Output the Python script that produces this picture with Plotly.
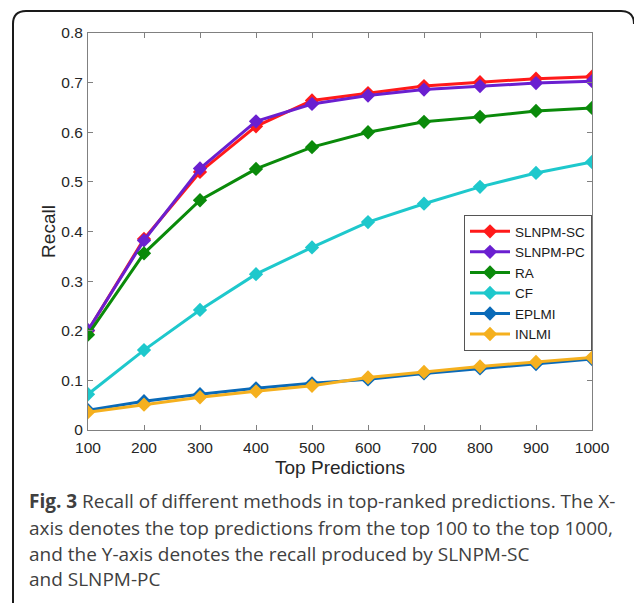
import plotly.graph_objects as go

# Top-N cut-offs on the x-axis
top_n = [100, 200, 300, 400, 500, 600, 700, 800, 900, 1000]

# Recall of each method at each cut-off
recall_slnpm_sc = [0.200, 0.385, 0.520, 0.612, 0.664, 0.679, 0.693, 0.701, 0.708, 0.712]
recall_slnpm_pc = [0.201, 0.382, 0.527, 0.622, 0.657, 0.674, 0.686, 0.693, 0.699, 0.703]
recall_ra = [0.192, 0.356, 0.463, 0.526, 0.570, 0.600, 0.621, 0.631, 0.643, 0.649]
recall_cf = [0.072, 0.161, 0.242, 0.314, 0.368, 0.419, 0.456, 0.490, 0.518, 0.540]
recall_eplmi = [0.040, 0.058, 0.072, 0.084, 0.094, 0.102, 0.114, 0.124, 0.133, 0.143]
recall_inlmi = [0.036, 0.051, 0.066, 0.078, 0.089, 0.106, 0.117, 0.128, 0.137, 0.146]

method_names = ["SLNPM-SC", "SLNPM-PC", "RA", "CF", "EPLMI", "INLMI"]
method_colors = ["#ff1a1a", "#6a1fd0", "#0a8a0a", "#1ec8cc", "#0a6ab8", "#f5b01e"]
method_values = [recall_slnpm_sc, recall_slnpm_pc, recall_ra, recall_cf,
                 recall_eplmi, recall_inlmi]

y_ticks = [0, 0.1, 0.2, 0.3, 0.4, 0.5, 0.6, 0.7, 0.8]
y_tick_text = ["0", "0.1", "0.2", "0.3", "0.4", "0.5", "0.6", "0.7", "0.8"]

caption_lines = [
    "<b>Fig. 3</b> Recall of different methods in top-ranked predictions. The X-",
    "axis denotes the top predictions from the top 100 to the top 1000,",
    "and the Y-axis denotes the recall produced by SLNPM-SC",
    "and SLNPM-PC",
]

W, H = 634, 603
L, R, T, B = 88, 42, 33, 173


def px(x):
    return (x - L) / (W - L - R)


def py(y):
    return 1 - (y - T) / (H - T - B)


fig = go.Figure()
for name, color, vals in zip(method_names, method_colors, method_values):
    fig.add_trace(go.Scatter(
        x=top_n, y=vals, name=name, mode="lines+markers",
        line=dict(color=color, width=3),
        marker=dict(symbol="diamond", size=11, color=color),
    ))

axis_common = dict(
    showgrid=False, zeroline=False, showline=True, linecolor="#808080",
    linewidth=1, mirror="ticks", ticks="inside", ticklen=5,
    tickcolor="#808080",
    tickfont=dict(family="Liberation Sans, Arial", size=15.5, color="#262626"),
)

title_font = dict(family="Liberation Sans, Arial", size=19, color="#262626")

fig.update_xaxes(
    range=[100, 1000], tickvals=top_n, ticktext=[str(v) for v in top_n],
    ticklabelstandoff=3,
    title=dict(text="Top Predictions", standoff=6, font=title_font),
    **axis_common,
)
fig.update_yaxes(
    range=[0, 0.8], tickvals=y_ticks, ticktext=y_tick_text,
    ticklabelstandoff=1,
    title=dict(text="Recall", standoff=0, font=title_font),
    **axis_common,
)

# Rounded frame around figure and caption
frame_path = (
    f"M {px(13)},{py(603)} L {px(13)},{py(24)} "
    f"Q {px(13)},{py(11)} {px(26)},{py(11)} "
    f"L {px(621)},{py(11)} Q {px(634)},{py(11)} {px(634)},{py(24)}"
)
fig.add_shape(type="path", path=frame_path, xref="paper", yref="paper",
              line=dict(color="#1a1a1a", width=2))

caption_y = [501, 528, 554, 579]
for text, yc in zip(caption_lines, caption_y):
    fig.add_annotation(
        text=text, xref="paper", yref="paper", x=px(27), y=py(yc),
        xanchor="left", yanchor="middle", showarrow=False, align="left",
        font=dict(family="Open Sans", size=19, color="#404040"),
    )

fig.update_layout(
    width=W, height=H,
    margin=dict(l=L, r=R, t=T, b=B),
    paper_bgcolor="white", plot_bgcolor="white",
    showlegend=True,
    legend=dict(
        x=1, xanchor="right", y=py(215), yanchor="top",
        bgcolor="white", bordercolor="#555555", borderwidth=1,
        font=dict(family="Liberation Sans, Arial", size=13.5, color="#1a1a1a"),
        tracegroupgap=0, itemwidth=40,
    ),
)

fig.write_html("out.html")
